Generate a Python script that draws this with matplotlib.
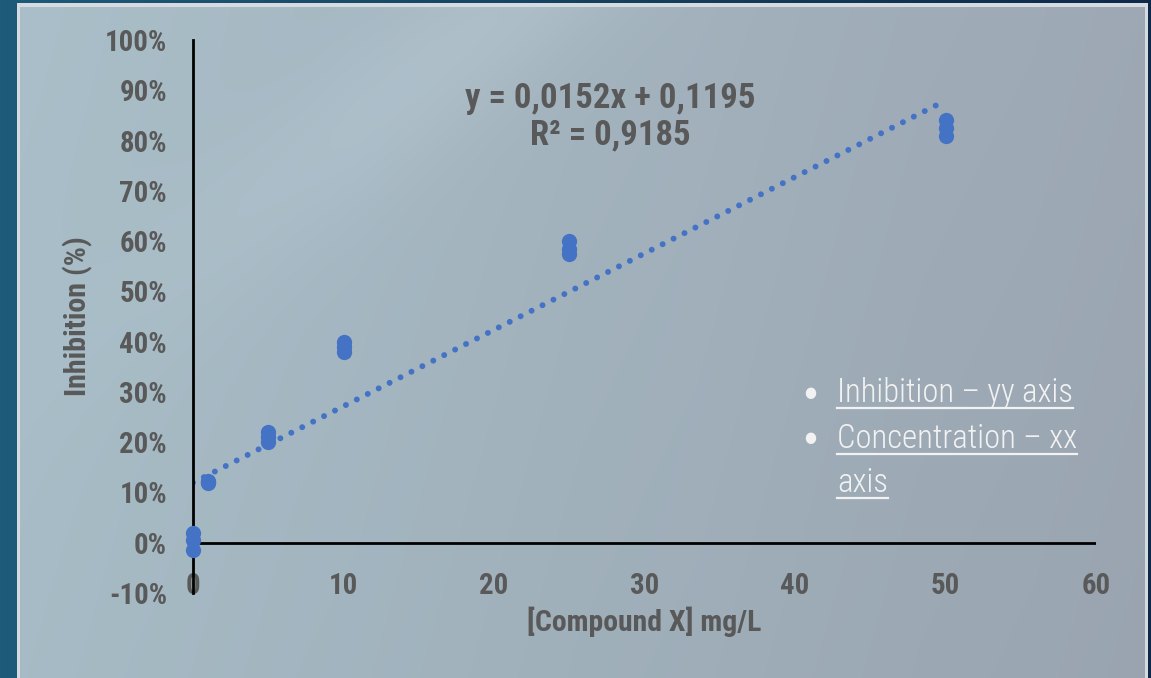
import numpy as np
import matplotlib
matplotlib.use('Agg')
import matplotlib.pyplot as plt
from matplotlib.lines import Line2D
from matplotlib.ticker import PercentFormatter

W, H = 1151, 678

conc = [0, 0, 0, 1, 1, 1, 5, 5, 5, 10, 10, 10, 25, 25, 25, 50, 50, 50]
inhibition = [0.02, 0.005, -0.015, 0.12, 0.118, 0.122, 0.22, 0.21, 0.20,
              0.40, 0.39, 0.38, 0.60, 0.585, 0.575, 0.84, 0.825, 0.81]
slope, intercept, r2 = 0.0152, 0.1195, 0.9185
x_ticks = [0, 10, 20, 30, 40, 50, 60]
y_ticks = [-0.1, 0, 0.1, 0.2, 0.3, 0.4, 0.5, 0.6, 0.7, 0.8, 0.9, 1.0]
notes = ['Inhibition – yy axis', 'Concentration – xx', 'axis']

BLUE = '#4472C4'
GREY = '#595959'
FONT = ['Roboto Condensed', 'DejaVu Sans Condensed', 'DejaVu Sans']
plt.rcParams['font.family'] = FONT
plt.rcParams['font.stretch'] = 'condensed'
plt.rcParams['axes.unicode_minus'] = False


def px(x, y):
    return x / W, 1 - y / H


def background():
    yy, xx = np.mgrid[0:H, 0:W].astype(float)
    t = xx / W
    img = np.zeros((H, W, 3))
    c0 = np.array([30, 90, 122]) / 255
    c1 = np.array([14, 42, 74]) / 255
    for k in range(3):
        img[..., k] = c0[k] * (1 - t) + c1[k] * t
    p0 = np.array([170, 191, 201]) / 255
    p1 = np.array([157, 168, 180]) / 255
    tp = np.clip((xx - 17) / 1130, 0, 1)
    panel = np.zeros_like(img)
    for k in range(3):
        panel[..., k] = p0[k] * (1 - tp) + p1[k] * tp - 0.015 * yy / H
    # soft light streak
    d = np.array([-1.0, 0.8])
    d /= np.linalg.norm(d)
    rx, ry = xx - 520, yy
    dist = np.abs(rx * d[1] - ry * d[0])
    along = rx * d[0] + ry * d[1]
    glow = np.exp(-(dist / 70) ** 2) * np.exp(-(along / 420) ** 2) * 0.035
    panel += glow[..., None]
    inside = (xx >= 17) & (xx <= 1147) & (yy >= 3)
    img[inside] = panel[inside]
    border = inside & ~((xx >= 20) & (xx <= 1144) & (yy >= 7))
    img[border] = np.array([214, 219, 223]) / 255
    return np.clip(img, 0, 1)


def fit(text, target, r, vertical=False):
    bb = text.get_window_extent(r)
    size = bb.height if vertical else bb.width
    text.set_fontsize(text.get_fontsize() * target / size)


fig = plt.figure(figsize=(W / 100, H / 100), dpi=100)
bg = fig.add_axes([0, 0, 1, 1], zorder=-10)
bg.imshow(background(), aspect='auto', interpolation='bilinear')
bg.axis('off')

ax = fig.add_axes([193 / W, 1 - 593 / H, 903 / W, 553 / H])
ax.patch.set_alpha(0)
ax.set_xlim(0, 60)
ax.set_ylim(-0.10, 1.00)

xs = np.array([0, 50])
ax.plot(xs, slope * xs + intercept, color=BLUE, lw=4.3,
        linestyle=(0, (0.001, 2.05)), dash_capstyle='round', zorder=2)
ax.plot(conc, inhibition, 'o', color=BLUE, ms=11, mec='none',
        clip_on=False, zorder=3)

for s in ['top', 'right', 'bottom']:
    ax.spines[s].set_visible(False)
ax.spines['left'].set_linewidth(2)
ax.spines['left'].set_color('black')
ax.axhline(0, color='black', lw=2, zorder=1)

ax.set_xticks(x_ticks)
ax.set_yticks(y_ticks)
ax.yaxis.set_major_formatter(PercentFormatter(1.0, decimals=0))
ax.tick_params(axis='both', length=0, labelsize=18, labelcolor=GREY)
ax.tick_params(axis='y', pad=18.7)
ax.tick_params(axis='x', pad=-15)

xl = ax.set_xlabel('[Compound X] mg/L', fontsize=20, fontweight='bold',
                   color=GREY, va='center')
ax.xaxis.set_label_coords(0.5, -29 / 553)
yl = ax.set_ylabel('Inhibition (%)', fontsize=20, fontweight='bold',
                   color=GREY, va='center')
ax.yaxis.set_label_coords((78 - 193) / 903, 0.5)

eq = f'y = {slope:.4f}x + {intercept:.4f}\nR² = {r2:.4f}'.replace('.', ',')
eqt = ax.text(27.7, 0.848, eq, ha='center', va='center', fontsize=26,
              fontweight='bold', color=GREY, linespacing=1.12)

baselines = [402, 448, 492]
note_texts = []
for i, (txt, yb) in enumerate(zip(notes, baselines)):
    t = fig.text(*px(837, yb), txt, fontsize=24, color='#F2F2F2',
                 va='baseline', ha='left', fontweight='light')
    note_texts.append((t, yb))
    if i < 2:
        fig.text(*px(810, yb - 10), '●', fontsize=11, color='#F2F2F2',
                 ha='center', va='center', family=['DejaVu Sans'])

# scale text sizes so widths match the reference
fig.canvas.draw()
r = fig.canvas.get_renderer()
labs = ax.get_yticklabels()
bb = labs[-1].get_window_extent(r)
tick_size = 18 * 61 / bb.width
ax.tick_params(axis='both', labelsize=tick_size)
for lab in ax.get_xticklabels() + ax.get_yticklabels():
    lab.set_fontweight('bold')
fit(xl, 234, r)
fit(yl, 160, r, vertical=True)
fit(eqt, 292, r)
scale = None
for t, yb in note_texts:
    if scale is None:
        bb = t.get_window_extent(r)
        scale = 236 / bb.width
    t.set_fontsize(t.get_fontsize() * scale)

fig.canvas.draw()
for t, yb in note_texts:
    bb = t.get_window_extent(r)
    x0, y0 = px(bb.x0, yb + 6)
    x1 = bb.x1 / W
    fig.add_artist(Line2D([x0, x1], [y0, y0], color='#F2F2F2', lw=1.6,
                          transform=fig.transFigure))

fig.savefig('out.png', dpi=100)
